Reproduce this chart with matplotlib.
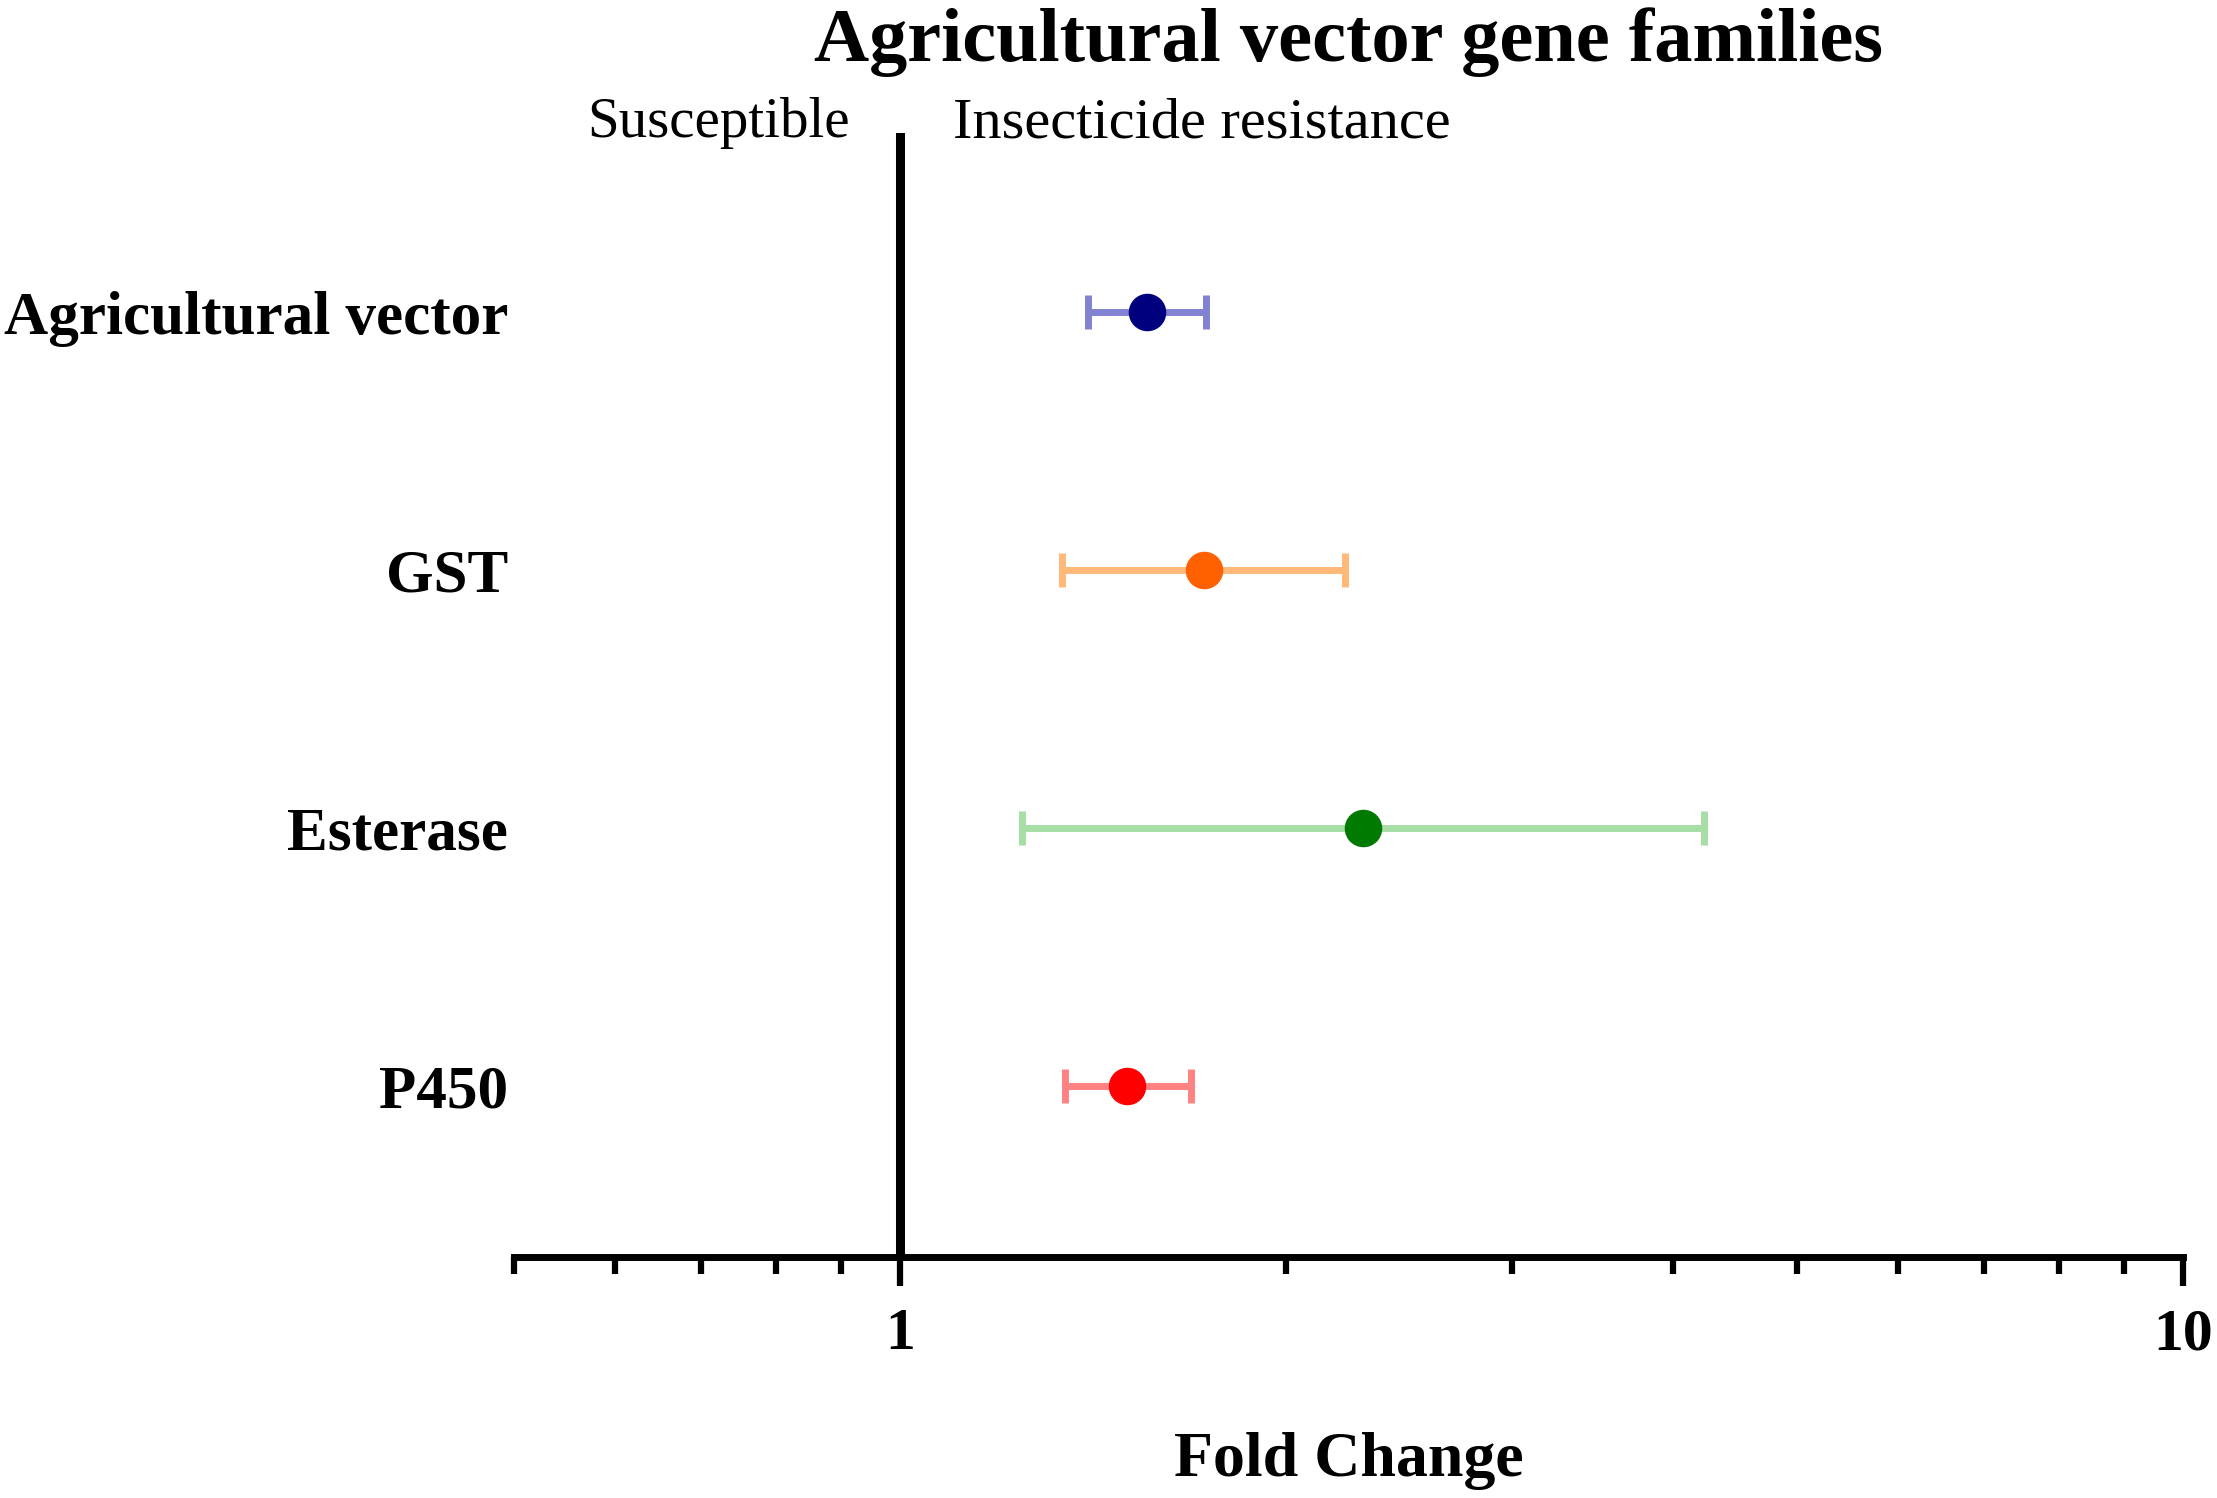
import matplotlib
matplotlib.use("Agg")
import matplotlib.pyplot as plt
import matplotlib.transforms as mtransforms
from matplotlib.ticker import FixedLocator, NullFormatter

plt.rcParams['font.family'] = ['Liberation Serif', 'DejaVu Serif']

# data
families = ['Agricultural vector', 'GST', 'Esterase', 'P450']
fold_change = [1.558, 1.726, 2.297, 1.503]
ci_low = [1.402, 1.338, 1.245, 1.345]
ci_high = [1.733, 2.224, 4.23, 1.684]
point_colors = ['#00007f', '#ff6000', '#007a00', '#ff0000']
bar_colors = ['#8282d2', '#ffb878', '#a6dea6', '#ff8282']
major_ticks = [1, 10]
tick_labels = ['1', '10']
minor_ticks = [0.5, 0.6, 0.7, 0.8, 0.9, 2, 3, 4, 5, 6, 7, 8, 9]

fig = plt.figure(figsize=(22.17, 14.98), dpi=100)
ax = fig.add_axes([0.2318, 0.1609, 0.7529, 0.7503])

ypos = [4, 3, 2, 1]

for i in range(len(families)):
    err = [[fold_change[i] - ci_low[i]], [ci_high[i] - fold_change[i]]]
    ax.errorbar([fold_change[i]], [ypos[i]], xerr=err, fmt='none',
                ecolor=bar_colors[i], elinewidth=5, capsize=12.5,
                capthick=5, zorder=2)
    ax.plot([fold_change[i]], [ypos[i]], 'o', ms=26, color=point_colors[i],
            zorder=3)

ax.set_xscale('log')
ax.set_xlim(0.5, 10)
ax.set_ylim(0.337, 4.694)

# vertical reference line at fold change 1
ax.axvline(1, color='black', lw=6.5, zorder=1)

for s in ['top', 'right', 'left']:
    ax.spines[s].set_visible(False)
ax.spines['bottom'].set_linewidth(5)

ax.xaxis.set_major_locator(FixedLocator(major_ticks))
ax.set_xticklabels(tick_labels)
ax.xaxis.set_minor_locator(FixedLocator(minor_ticks))
ax.xaxis.set_minor_formatter(NullFormatter())
ax.tick_params(axis='x', which='major', direction='out', length=21,
               width=4.5, pad=16, labelsize=43)
ax.tick_params(axis='x', which='minor', direction='out', length=12,
               width=4.5)
for lab in ax.get_xticklabels():
    lab.set_fontweight('bold')

ax.set_yticks(ypos)
ax.set_yticklabels(families, fontsize=44, fontweight='bold')
ax.tick_params(axis='y', length=0, pad=4)

ax.set_xlabel('Fold Change', fontsize=46, fontweight='bold', labelpad=50)
ax.set_title('Agricultural vector gene families', fontsize=55,
             fontweight='bold', pad=52)

trans = mtransforms.blended_transform_factory(ax.transData, ax.transAxes)
ax.text(0.913, 0.9964, 'Susceptible', transform=trans, ha='right',
        va='baseline', fontsize=41)
ax.text(1.10, 0.9964, 'Insecticide resistance', transform=trans, ha='left',
        va='baseline', fontsize=42)

fig.savefig('out.png', dpi=100)
